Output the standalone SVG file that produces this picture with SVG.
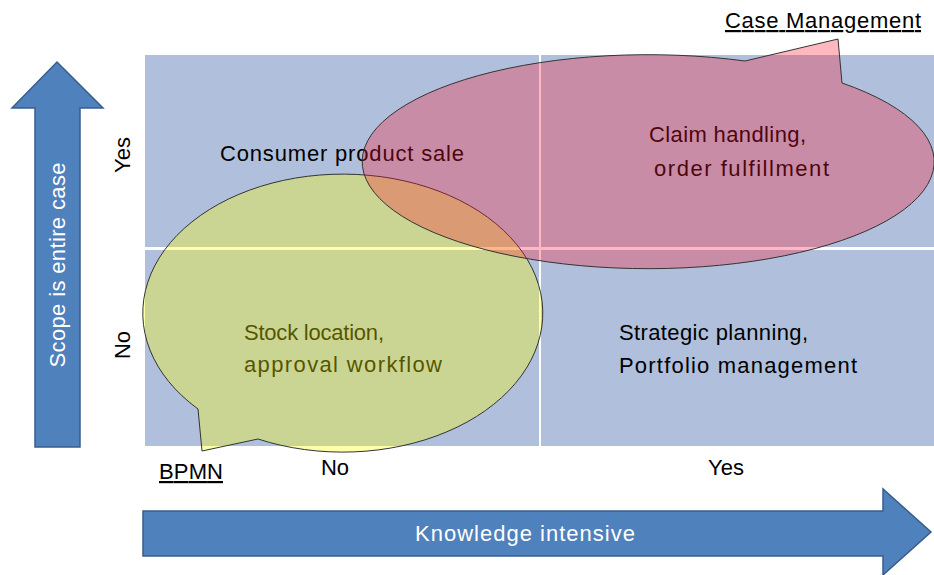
<svg xmlns="http://www.w3.org/2000/svg" width="934" height="575" viewBox="0 0 934 575">
<style>
text{font-family:"Liberation Sans","Open Sans",sans-serif;font-size:22px;fill:#000}
.w{fill:#fff}
.arrow{fill:#4f81bd;stroke:#385d8a;stroke-width:1.5}
.bub{stroke:#333;stroke-width:1}
</style>
<rect width="934" height="575" fill="#fff"/>
<g id="grid">
<rect x="145" y="55" width="789" height="391" fill="#b0c0dc"/>
<rect x="539" y="55" width="2" height="391" fill="#fff"/>
<rect x="145" y="247" width="789" height="3" fill="#fff"/>
</g>
<g id="labels">
<text x="220" y="161" textLength="244">Consumer product sale</text>
<text x="649" y="142" textLength="157">Claim handling,</text>
<text x="654" y="176" textLength="175">order fulfillment</text>
<text x="244" y="340" textLength="140">Stock location,</text>
<text x="244" y="372" textLength="198">approval workflow</text>
<text x="619" y="340" textLength="189">Strategic planning,</text>
<text x="619" y="373" textLength="238">Portfolio management</text>
<text x="335" y="475" text-anchor="middle">No</text>
<text x="726" y="475" text-anchor="middle">Yes</text>
<text transform="translate(130,155) rotate(-90)" text-anchor="middle">Yes</text>
<text transform="translate(130,345) rotate(-90)" text-anchor="middle">No</text>
</g>
<g id="bpmn-bubble">
<path class="bub" d="M198 409 L202 451 L258 439 A200 139 0 1 0 198 409 Z" fill="#ffff00" fill-opacity="0.33"/>
</g>
<g id="case-bubble">
<path class="bub" d="M745 61 L838 39 L842 83 A286 107 0 1 1 745 61 Z" fill="#ff142d" fill-opacity="0.3"/>
</g>
<g id="bpmn-label">
<text x="159" y="479" textLength="64" text-decoration="underline">BPMN</text>
</g>
<g id="case-label">
<text x="725" y="28" textLength="196" text-decoration="underline">Case Management</text>
</g>
<g id="scope-arrow">
<path class="arrow" d="M35 447 L35 108 L12 108 L57 62 L103 108 L80 108 L80 447 Z"/>
<text class="w" transform="translate(65,265) rotate(-90)" text-anchor="middle" textLength="205">Scope is entire case</text>
</g>
<g id="knowledge-arrow">
<path class="arrow" d="M143 511 L883 511 L883 489 L931 532 L883 575 L883 556 L143 556 Z"/>
<text class="w" x="525" y="541" text-anchor="middle" textLength="220">Knowledge intensive</text>
</g>
</svg>
